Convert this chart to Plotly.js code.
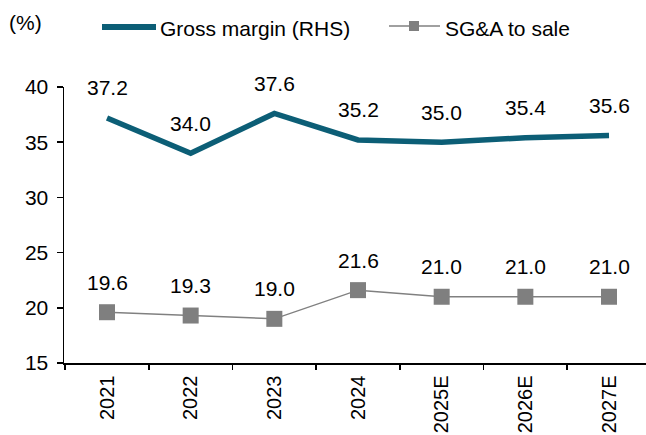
<!DOCTYPE html>
<html>
<head>
<meta charset="utf-8">
<script src="https://cdn.plot.ly/plotly-3.0.1.min.js"></script>
<style>html,body{margin:0;padding:0;background:#fff;}#chart{width:646px;height:435px;}</style>
</head>
<body>
<div id="chart"></div>
<script>
const categories = ["2021", "2022", "2023", "2024", "2025E", "2026E", "2027E"];
const grossMargin = [37.2, 34.0, 37.6, 35.2, 35.0, 35.4, 35.6];
const sgaToSale = [19.6, 19.3, 19.0, 21.6, 21.0, 21.0, 21.0];
const yTicks = [15, 20, 25, 30, 35, 40];
const seriesNames = ["Gross margin (RHS)", "SG&A to sale"];

const font = "Liberation Sans, Arial, sans-serif";
const FS = 21;
const W = 646, H = 435;
const M = {l: 64, r: 0, t: 87, b: 72};
const pw = W - M.l - M.r, ph = H - M.t - M.b;
// page pixel -> paper coordinate (for legend decorations)
const px = v => (v - M.l) / pw;
const py = v => (H - M.b - v) / ph;

const teal = "#0c5e76", grey = "#808080";
const idx = categories.map((c, i) => i);

const traces = [
  {
    x: idx, y: grossMargin, name: seriesNames[0], type: "scatter", mode: "lines",
    line: {color: teal, width: 5.5}, cliponaxis: false, showlegend: false
  },
  {
    x: idx, y: sgaToSale, name: seriesNames[1], type: "scatter", mode: "lines+markers",
    line: {color: grey, width: 1.5},
    marker: {symbol: "square", size: 16, color: "#7f7f7f"}, cliponaxis: false, showlegend: false
  }
];

const annotations = [];
[grossMargin, sgaToSale].forEach(arr => {
  arr.forEach((v, i) => {
    annotations.push({
      x: i, y: v, xref: "x", yref: "y", text: v.toFixed(1),
      showarrow: false, yshift: 30, font: {family: font, size: FS, color: "#000"}
    });
  });
});
annotations.push({
  xref: "paper", yref: "paper", x: px(7), y: py(22), xanchor: "left", yanchor: "middle",
  text: "(%)", showarrow: false, font: {family: font, size: FS, color: "#000"}
});
annotations.push({
  xref: "paper", yref: "paper", x: px(158), y: py(29), xanchor: "left", yanchor: "middle",
  text: seriesNames[0], showarrow: false, font: {family: font, size: FS, color: "#000"}
});
annotations.push({
  xref: "paper", yref: "paper", x: px(443), y: py(29), xanchor: "left", yanchor: "middle",
  text: seriesNames[1], showarrow: false, font: {family: font, size: FS, color: "#000"}
});

const shapes = [
  {type: "line", xref: "paper", yref: "paper", x0: px(102), x1: px(156), y0: py(27), y1: py(27),
   line: {color: teal, width: 6}},
  {type: "line", xref: "paper", yref: "paper", x0: px(389), x1: px(440), y0: py(26), y1: py(26),
   line: {color: grey, width: 1.5}},
  {type: "rect", xref: "paper", yref: "paper", x0: px(409), x1: px(419), y0: py(21), y1: py(31),
   fillcolor: "#7f7f7f", line: {width: 0}}
];

const xr = [-0.514, 6.442];

const layout = {
  width: W, height: H,
  margin: M,
  paper_bgcolor: "#fff", plot_bgcolor: "#fff",
  font: {family: font, size: FS, color: "#000"},
  showlegend: false,
  xaxis: {
    tickmode: "array", tickvals: idx, ticktext: categories,
    tickangle: -90, showgrid: false, zeroline: false,
    showline: true, linecolor: "#000", linewidth: 1.5,
    ticks: "", tickfont: {family: font, size: 20, color: "#000"}, range: xr,
    ticklabelstandoff: 3
  },
  xaxis2: {
    overlaying: "x", anchor: "y", side: "bottom", tickmode: "array",
    tickvals: idx.map(i => i - 0.5), ticktext: idx.map(() => ""),
    range: xr, showgrid: false, zeroline: false, showline: false,
    ticks: "outside", ticklen: 6, tickcolor: "#000", tickwidth: 1.5
  },
  yaxis: {
    range: [15, 40], tickvals: yTicks, showgrid: false, zeroline: false,
    showline: true, linecolor: "#000", linewidth: 1.5,
    ticks: "outside", ticklen: 6, tickcolor: "#000", tickwidth: 1.5,
    tickfont: {family: font, size: FS, color: "#000"}, ticklabelstandoff: 4
  },
  annotations: annotations,
  shapes: shapes
};

// invisible helper trace so the boundary-tick axis is drawn
traces.push({x: [0], y: [15], xaxis: "x2", yaxis: "y", mode: "markers", marker: {opacity: 0}, showlegend: false, hoverinfo: "skip"});

Plotly.newPlot("chart", traces, layout, {displayModeBar: false, staticPlot: true});
</script>
</body>
</html>
